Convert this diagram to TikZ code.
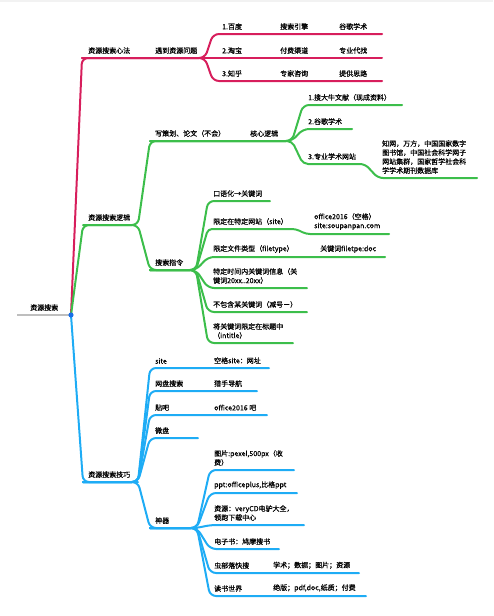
\documentclass[tikz,border=0pt]{standalone}
\usepackage{fontspec}
\setmainfont{Noto Sans CJK SC}[FakeBold=0.5]
\usetikzlibrary{positioning}

\definecolor{mapred}{RGB}{215,30,92}
\definecolor{mapgreen}{RGB}{60,190,75}
\definecolor{mapblue}{RGB}{30,172,245}
\definecolor{mapdot}{RGB}{24,110,232}
\definecolor{mapgray}{RGB}{190,190,190}

\begin{document}
\begin{tikzpicture}[
  x=1pt, y=-1pt,
  branch/.style={line width=2pt, rounded corners=6pt, line cap=round, line join=round},
  redbranch/.style={branch, draw=mapred},
  greenbranch/.style={branch, draw=mapgreen},
  bluebranch/.style={branch, draw=mapblue},
  topic/.style={anchor=south west, inner sep=0pt, align=left, text=black,
    font=\fontsize{7}{9}\selectfont},
]
\useasboundingbox (0,0) rectangle (493,616);
\fill[gray!10] (0,0) rectangle (493,2);

% --- Root ---
\coordinate (rootL) at (17,315);
\coordinate (root) at (71,315);
\draw[line width=2pt, mapgray] (rootL) -- (root);
\node[topic] (search) at (30,311) {资源搜索};

% --- 心法 (red) ---
\coordinate (r0) at (82,58);
\coordinate (r1) at (205,58);
\coordinate (r1a) at (213,34);  \coordinate (r1aE) at (382,34);
\coordinate (r1bE) at (382,58);
\coordinate (r1c) at (213,81);  \coordinate (r1cE) at (382,81);
\draw[redbranch] (root) -- (r0) -- (r1) -- (r1a) -- (r1aE);
\draw[redbranch] (r0) -- (r1) -- (r1bE);
\draw[redbranch] (r0) -- (r1) -- (r1c) -- (r1cE);

\node[topic] (xinfa) at (88,54) {资源搜索心法};
\node[topic] (wenti) at (155,54) {遇到资源问题};
\node[topic] (baidu) at (222,30) {1.百度};
\node[topic] (yinqing) at (280,30) {搜索引擎};
\node[topic] (guge) at (339,30) {谷歌学术};
\node[topic] (taobao) at (222,54) {2.淘宝};
\node[topic] (fufei) at (280,54) {付费渠道};
\node[topic] (daizhao) at (339,54) {专业代找};
\node[topic] (zhihu) at (222,77) {3.知乎};
\node[topic] (zixun) at (280,77) {专家咨询};
\node[topic] (silu) at (339,77) {提供思路};

% --- 逻辑 (green) ---
\coordinate (g0) at (83,225);
\coordinate (g1) at (138,225);
\coordinate (g1a) at (150,141);
\coordinate (g2) at (292,141);
\coordinate (g2a) at (303,105); \coordinate (g2aE) at (402,105);
\coordinate (g2b) at (303,129); \coordinate (g2bE) at (352,129);
\coordinate (g2c) at (303,164); \coordinate (g2cK) at (365,164);
\coordinate (g2cL) at (378,178); \coordinate (g2cE) at (477,178);
\draw[greenbranch] (root) -- (g0) -- (g1) -- (g1a) -- (g2) -- (g2a) -- (g2aE);
\draw[greenbranch] (g1a) -- (g2) -- (g2b) -- (g2bE);
\draw[greenbranch, rounded corners=5pt] (g1a) -- (g2) -- (g2c) -- (g2cK) -- (g2cL) -- (g2cE);

\node[topic] (luoji) at (88,221) {资源搜索逻辑};
\node[topic] (cehua) at (155,137) {写策划、论文（不会）};
\node[topic] (hexin) at (250,137) {核心逻辑};
\node[topic] (daniu) at (308,101) {1.搜大牛文献（现成资料）};
\node[topic] (xueshu) at (308,125) {2.谷歌学术};
\node[topic] (wangzhan) at (308,160) {3.专业学术网站};
\node[topic] (zhiwang) at (382,174) {知网，万方，中国国家数字\\图书馆，中国社会科学网子\\网站集群，国家哲学社会科\\学学术期刊数据库};

% --- 搜索指令 ---
\coordinate (g1b) at (150,270);
\coordinate (g3) at (196,270);
\coordinate (g3a) at (208,201); \coordinate (g3aE) at (270,201);
\coordinate (g3b) at (208,229); \coordinate (g3bK) at (296,229);
\coordinate (g3bL) at (306,234); \coordinate (g3bE) at (389,234);
\coordinate (g3c) at (208,257); \coordinate (g3cE) at (385,257);
\coordinate (g3d) at (208,288); \coordinate (g3dE) at (307,288);
\coordinate (g3e) at (208,312); \coordinate (g3eE) at (307,312);
\coordinate (g3f) at (208,343); \coordinate (g3fE) at (293,343);
\draw[greenbranch] (g0) -- (g1) -- (g1b) -- (g3) -- (g3a) -- (g3aE);
\draw[greenbranch, rounded corners=4pt] (g1b) -- (g3) -- (g3b) -- (g3bK) -- (g3bL) -- (g3bE);
\draw[greenbranch] (g1b) -- (g3) -- (g3c) -- (g3cE);
\draw[greenbranch] (g1b) -- (g3) -- (g3d) -- (g3dE);
\draw[greenbranch] (g1b) -- (g3) -- (g3e) -- (g3eE);
\draw[greenbranch] (g1b) -- (g3) -- (g3f) -- (g3fE);

\node[topic] (zhiling) at (155,266) {搜索指令};
\node[topic] (kouyu) at (213,197) {口语化→关键词};
\node[topic] (site) at (213,225) {限定在特定网站（site）};
\node[topic] (soupan) at (314,230) {office2016（空格）\\site:soupanpan.com};
\node[topic] (filetype) at (213,253) {限定文件类型（filetype）};
\node[topic] (filedoc) at (320,253) {关键词filetpe:doc};
\node[topic] (shijian) at (213,284) {特定时间内关键词信息（关\\键词20xx..20xx）};
\node[topic] (jianhao) at (213,308) {不包含某关键词（减号－）};
\node[topic] (intitle) at (213,339) {将关键词限定在标题中\\（intitle）};

% --- 技巧 (blue) ---
\coordinate (b0) at (83,482);
\coordinate (b1) at (138,482);
\draw[bluebranch] (root) -- (b0) -- (b1);
\foreach \i/\y/\e in {a/368/269, b/391/257, c/415/267, d/438/198}{
  \coordinate (b1\i) at (150,\y);
  \coordinate (b1\i E) at (\e,\y);
  \draw[bluebranch] (b0) -- (b1) -- (b1\i) -- (b1\i E);
}
\coordinate (b1e) at (150,528);
\coordinate (b2) at (197,528);
\draw[bluebranch] (b0) -- (b1) -- (b1e) -- (b2);
\foreach \i/\y/\e in {a/470/294, b/493/297, c/525/304, d/549/279, e/573/359, f/596/366}{
  \coordinate (b2\i) at (210,\y);
  \coordinate (b2\i E) at (\e,\y);
  \draw[bluebranch] (b1e) -- (b2) -- (b2\i) -- (b2\i E);
}

\node[topic] (jiqiao) at (88,478) {资源搜索技巧};
\node[topic] (bsite) at (155,364) {site};
\node[topic] (wangzhi) at (214,364) {空格site：网址};
\node[topic] (wangpan) at (155,387) {网盘搜索};
\node[topic] (lieshou) at (214,387) {猎手导航};
\node[topic] (tieba) at (155,411) {贴吧};
\node[topic] (officeba) at (214,411) {office2016 吧};
\node[topic] (weipan) at (155,434) {微盘};
\node[topic] (shenqi) at (155,524) {神器};
\node[topic] (tupian) at (214,466) {图片:pexel,500px（收\\费）};
\node[topic] (ppt) at (214,489) {ppt:officeplus,比格ppt};
\node[topic] (ziyuan) at (214,521) {资源：veryCD电驴大全，\\领跑下载中心};
\node[topic] (dianzi) at (214,545) {电子书：鸠摩搜书};
\node[topic] (chongbu) at (214,569) {虫部落快搜};
\node[topic] (chongbuR) at (273,569) {学术；数据；图片；资源};
\node[topic] (dushu) at (214,592) {读书世界};
\node[topic] (dushuR) at (273,592) {绝版；pdf,doc,纸质；付费};

% --- Centre dot ---
\fill[mapdot] (root) circle (2.6pt);
\end{tikzpicture}
\end{document}
